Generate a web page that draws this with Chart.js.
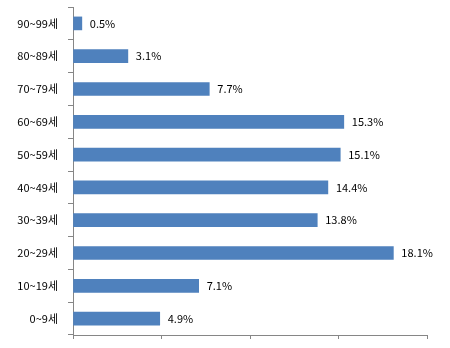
<!DOCTYPE html>
<html>
<head>
<meta charset="utf-8">
<script src="https://cdn.jsdelivr.net/npm/chart.js@4"></script>
<style>
    html, body { margin: 0; padding: 0; background: #fff; }
    #wrap { width: 450px; height: 348px; }
</style>
</head>
<body>
<div id="wrap"><canvas id="ageChart" width="450" height="348"></canvas></div>
<script>
// Age groups, top to bottom
const ageGroups = ["90~99세", "80~89세", "70~79세", "60~69세", "50~59세", "40~49세", "30~39세", "20~29세", "10~19세", "0~9세"];
// Share of each group (%)
const shares = [0.5, 3.1, 7.7, 15.3, 15.1, 14.4, 13.8, 18.1, 7.1, 4.9];
// x axis range
const xMin = 0;
const xMax = 20;
const xStep = 5;

const labelFont = '11px "Noto Sans CJK KR", "DejaVu Sans", sans-serif';

// Draw "x.x%" to the right of each bar
const valueLabels = {
    id: "valueLabels",
    afterDatasetsDraw(chart) {
        const ctx = chart.ctx;
        const meta = chart.getDatasetMeta(0);
        ctx.save();
        ctx.font = labelFont;
        ctx.fillStyle = "#000";
        ctx.textAlign = "left";
        ctx.textBaseline = "middle";
        meta.data.forEach((bar, i) => {
            ctx.fillText(shares[i].toFixed(1) + "%", bar.x + 8, bar.y);
        });
        ctx.restore();
    }
};

new Chart(document.getElementById("ageChart").getContext("2d"), {
    type: "bar",
    data: {
        labels: ageGroups,
        datasets: [{
            data: shares,
            backgroundColor: "#4F81BD",
            barThickness: 13
        }]
    },
    options: {
        indexAxis: "y",
        responsive: false,
        animation: false,
        layout: { padding: { left: 0, top: 7, right: 23, bottom: 8 } },
        plugins: {
            legend: { display: false },
            tooltip: { enabled: false }
        },
        scales: {
            x: {
                min: xMin,
                max: xMax,
                ticks: { stepSize: xStep, display: false },
                grid: { drawOnChartArea: false, drawTicks: true, tickLength: 4, color: "#868686" },
                border: { color: "#868686", width: 1 },
                afterFit(scale) {
                    scale.height = 5;
                    scale.paddingLeft = 0;
                    scale.paddingRight = 0;
                }
            },
            y: {
                ticks: {
                    color: "#000",
                    padding: 10,
                    font: { family: '"Noto Sans CJK KR", "DejaVu Sans", sans-serif', size: 11 }
                },
                grid: { drawOnChartArea: false, drawTicks: true, tickLength: 5, color: "#868686", offset: true },
                border: { color: "#868686", width: 1 },
                afterFit(scale) {
                    scale.width = 73;
                    scale.paddingTop = 0;
                    scale.paddingBottom = 0;
                }
            }
        }
    },
    plugins: [valueLabels]
});
</script>
</body>
</html>
